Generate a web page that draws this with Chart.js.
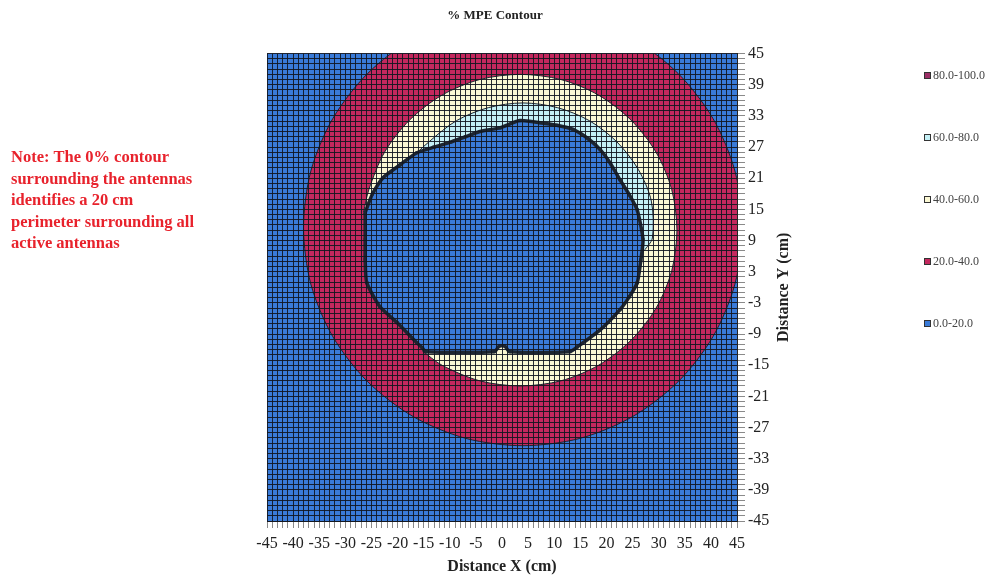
<!DOCTYPE html>
<html>
<head>
<meta charset="utf-8">
<title>% MPE Contour</title>
<script src="https://cdn.jsdelivr.net/npm/chart.js@4.4.1/dist/chart.umd.min.js"></script>
<style>
  html, body { margin: 0; padding: 0; background: #fff; }
</style>
</head>
<body>
<canvas id="contour" width="990" height="577"></canvas>
<script>
// tick labels
const xTickLabels = [-45, -40, -35, -30, -25, -20, -15, -10, -5, 0, 5, 10, 15, 20, 25, 30, 35, 40, 45];
const yTickLabels = [45, 39, 33, 27, 21, 15, 9, 3, -3, -9, -15, -21, -27, -33, -39, -45];

// legend bands (top to bottom as in the legend)
const bandLabels = ['80.0-100.0', '60.0-80.0', '40.0-60.0', '20.0-40.0', '0.0-20.0'];
const bandColors = ['#9c2f66', '#c4f0f6', '#fbf8d4', '#c4285e', '#3a7bd8'];

const noteLines = [
    'Note: The 0% contour',
    'surrounding the antennas',
    'identifies a 20 cm',
    'perimeter surrounding all',
    'active antennas'
];

// contour edges, [x, y] in cm
const edge20 = [
    [4, 53.5], [14.9, 52.1], [25, 47.9], [33.7, 41.2], [40.4, 32.5], [44.6, 22.4],
    [46, 11.5], [44.6, 0.6], [40.4, -9.5], [33.7, -18.2], [25, -24.9], [14.9, -29.1],
    [4, -30.5], [-6.9, -29.1], [-17, -24.9], [-25.7, -18.2], [-32.4, -9.5], [-36.6, 0.6],
    [-38, 11.5], [-36.6, 22.4], [-32.4, 32.5], [-25.7, 41.2], [-17, 47.9], [-6.9, 52.1], [4, 53.5]
];
const edge40 = [
    [-26.5, 14.5], [-25.5, 18.8], [-22.5, 26], [-17.7, 32.2], [-11.5, 37], [-4.3, 40],
    [3.5, 41], [11.3, 40], [18.5, 37], [24.7, 32.2], [29.5, 26], [32.5, 18.8], [33.5, 11],
    [32.5, 3.2], [29.5, -4], [24.7, -10.2], [18.5, -15], [11.3, -18], [3.5, -19],
    [-4.3, -18], [-11.5, -15], [-15.3, -12.2]
];
const edge60 = [
    [-18.5, 23.8], [-14, 28], [-8.7, 32.1], [-2.6, 34.6], [4, 35.5], [10.6, 34.6],
    [16.7, 32.1], [22, 28], [26.1, 22.7], [28.6, 16.6], [28.8, 9.5], [27.2, 7]
];
const edgeInner = [
    [-26.2, 14.4], [-24.8, 18], [-22.8, 21.1], [-19.5, 23.6], [-16.3, 25.9], [-13, 27],
    [-10, 27.9], [-7, 29], [-4.2, 30], [-0.4, 30.7], [3.4, 32.1], [7.3, 31.7], [10.5, 31.2],
    [13.6, 30.4], [16.5, 28.6], [18.8, 26.5], [20.8, 23.8], [22.6, 20.7], [24.4, 17.8],
    [25.9, 14.9], [27, 9.2], [26.6, 5.3], [25.9, 0.9], [24.4, -1.8], [22.6, -4.3],
    [18.8, -8.2], [14.4, -11.5], [13, -12.4], [1.5, -12.4], [0.5, -11.3], [-0.5, -11.3],
    [-1.5, -12.4], [-14.6, -12.4], [-15.3, -11.6], [-16.3, -10.7], [-20.1, -6.8],
    [-23.4, -3.7], [-25.9, 0.9], [-26.2, 5.3], [-26.2, 9.2], [-26.2, 14.4]
];

const serif = "'Liberation Serif', 'DejaVu Serif', serif";
const gridColor = 'rgba(18, 22, 32, 0.9)';
const edgeColor = '#1d2530';

function pts(list) {
    return list.map(p => ({ x: p[0], y: p[1] }));
}

// blue 0-20 level fills the whole plot behind the other bands
const plotBackground = {
    id: 'plotBackground',
    beforeDatasetsDraw(chart) {
        const { ctx, chartArea: a } = chart;
        ctx.save();
        ctx.fillStyle = bandColors[4];
        ctx.fillRect(a.left, a.top, a.right - a.left, a.bottom - a.top);
        ctx.restore();
    }
};

// y title (reads bottom to top), legend and the red note
const sideTexts = {
    id: 'sideTexts',
    afterDraw(chart) {
        const { ctx, chartArea: a } = chart;
        const ys = chart.scales.y;
        ctx.save();

        ctx.translate(ys.left + 47, (a.top + a.bottom) / 2);
        ctx.rotate(-Math.PI / 2);
        ctx.font = 'bold 16px ' + serif;
        ctx.fillStyle = '#222';
        ctx.textAlign = 'center';
        ctx.textBaseline = 'middle';
        ctx.fillText('Distance Y (cm)', 0, 0);
        ctx.setTransform(1, 0, 0, 1, 0, 0);

        ctx.font = '12px ' + serif;
        ctx.textAlign = 'left';
        bandLabels.forEach((lab, i) => {
            const cy = 76 + i * 62;
            ctx.fillStyle = bandColors[i];
            ctx.fillRect(924, cy - 4, 7, 7);
            ctx.strokeStyle = '#333';
            ctx.lineWidth = 1;
            ctx.strokeRect(924.5, cy - 3.5, 6, 6);
            ctx.fillStyle = '#444';
            ctx.fillText(lab, 933, cy);
        });

        ctx.font = 'bold 16.5px ' + serif;
        ctx.fillStyle = '#e8222c';
        noteLines.forEach((line, i) => {
            ctx.fillText(line, 11, 158 + i * 21.5);
        });
        ctx.restore();
    }
};

document.addEventListener('DOMContentLoaded', function () {
    const ctx = document.getElementById('contour').getContext('2d');

    const bandDataset = (label, edge, color) => ({
        label: label,
        data: pts(edge),
        showLine: true,
        fill: 'shape',
        backgroundColor: color,
        borderColor: edgeColor,
        borderWidth: 1,
        pointRadius: 0,
        tension: 0.3,
        clip: 0
    });

    new Chart(ctx, {
        type: 'scatter',
        data: {
            datasets: [
                {
                    label: '0.0-20.0',
                    data: pts(edgeInner),
                    showLine: true,
                    fill: 'shape',
                    backgroundColor: bandColors[4],
                    borderColor: edgeColor,
                    borderWidth: 3.5,
                    pointStyle: 'rect',
                    pointRadius: 2.2,
                    pointBackgroundColor: edgeColor,
                    pointBorderWidth: 0,
                    tension: 0.2,
                    clip: 0
                },
                bandDataset('60.0-80.0', edge60, bandColors[1]),
                bandDataset('40.0-60.0', edge40, bandColors[2]),
                bandDataset('20.0-40.0', edge20, bandColors[3])
            ]
        },
        options: {
            responsive: false,
            animation: false,
            events: [],
            font: { family: serif },
            layout: { padding: 0 },
            plugins: {
                legend: { display: false },
                tooltip: { enabled: false },
                title: {
                    display: true,
                    text: '% MPE Contour',
                    color: '#222',
                    font: { family: serif, size: 13, weight: 'bold' },
                    padding: { top: 8, bottom: 30 }
                }
            },
            scales: {
                x: {
                    type: 'linear',
                    position: 'bottom',
                    min: -45,
                    max: 45,
                    afterFit: s => { s.height = 56; },
                    ticks: {
                        stepSize: 1,
                        autoSkip: false,
                        maxRotation: 0,
                        minRotation: 0,
                        padding: 6,
                        color: '#222',
                        font: { family: serif, size: 16 },
                        callback: v => xTickLabels.includes(v) ? String(v) : ''
                    },
                    grid: { color: gridColor, z: 1, tickLength: 7, tickColor: '#8a8a8a' },
                    border: { color: '#222', z: 1 },
                    title: {
                        display: true,
                        text: 'Distance X (cm)',
                        color: '#222',
                        font: { family: serif, size: 16, weight: 'bold' },
                        padding: { top: 0, bottom: 1 }
                    }
                },
                y: {
                    type: 'linear',
                    position: 'right',
                    min: -45,
                    max: 45,
                    afterFit: s => { s.width = 253; },
                    ticks: {
                        stepSize: 1,
                        autoSkip: false,
                        padding: 3,
                        color: '#222',
                        font: { family: serif, size: 16 },
                        callback: v => yTickLabels.includes(v) ? String(v) : ''
                    },
                    grid: { color: gridColor, z: 1, tickLength: 8, tickColor: '#8a8a8a' },
                    border: { color: '#222', z: 1 }
                },
                // empty left column that holds the note
                yNote: {
                    type: 'linear',
                    position: 'left',
                    afterFit: s => { s.width = 267; },
                    ticks: { display: false },
                    grid: { display: false, drawTicks: false },
                    border: { display: false }
                }
            }
        },
        plugins: [plotBackground, sideTexts]
    });
});
</script>
</body>
</html>
